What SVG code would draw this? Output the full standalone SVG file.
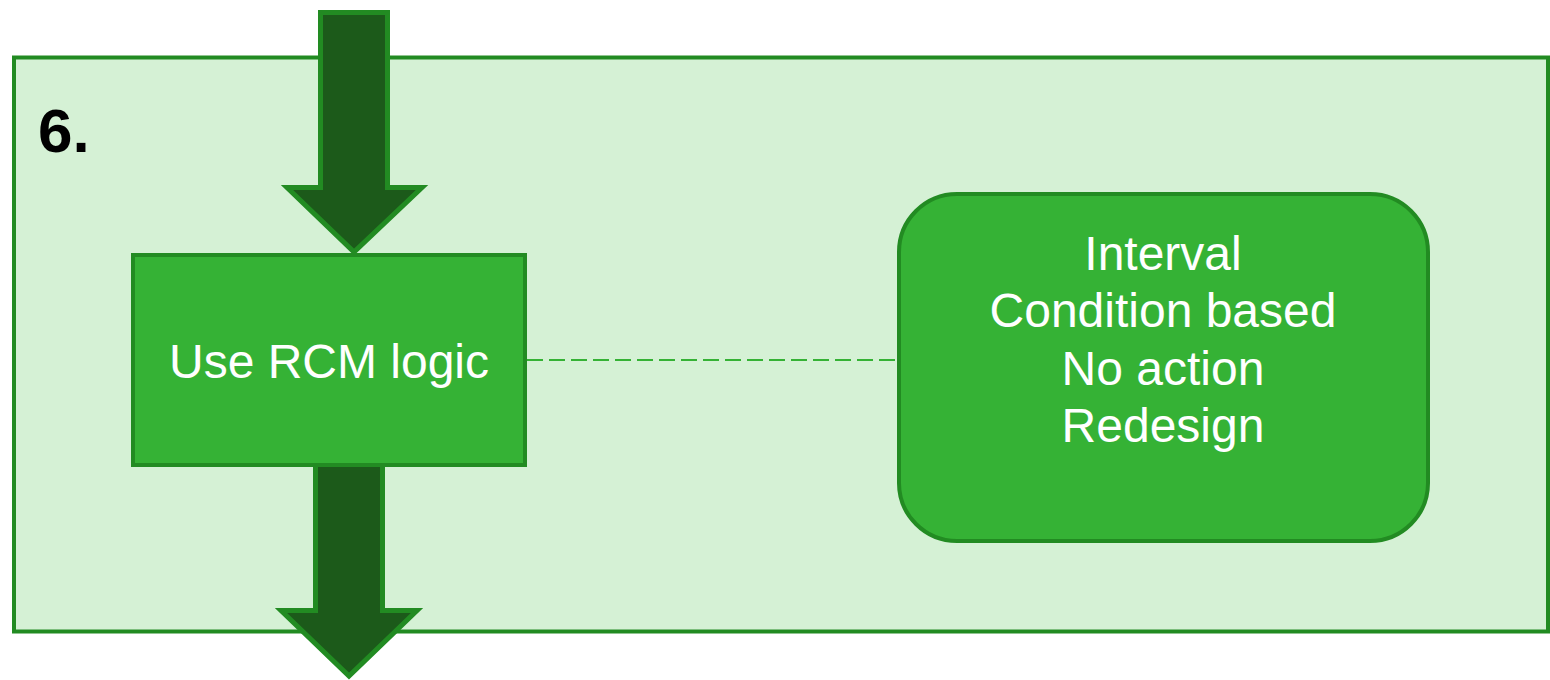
<svg xmlns="http://www.w3.org/2000/svg" width="1550" height="680" viewBox="0 0 1550 680">
  <style>
    .frame { fill: #d5f1d5; stroke: #228b22; stroke-width: 4; }
    .flow { fill: #1c5a1a; stroke: #228b22; stroke-width: 5; stroke-linejoin: miter; }
    .node { fill: #35b235; stroke: #228b22; stroke-width: 4; }
    .label { font-family: "Liberation Sans", Arial, sans-serif; font-size: 48px; fill: #ffffff; text-anchor: middle; }
    .step { font-family: "Liberation Sans", Arial, sans-serif; font-size: 62px; font-weight: bold; fill: #000000; }
    .link { stroke: #35b235; stroke-width: 2; stroke-dasharray: 16 6; fill: none; }
  </style>

  <!-- step frame -->
  <g id="step-frame">
    <rect class="frame" x="14" y="57.5" width="1534" height="574"/>
    <text class="step" x="38" y="152">6.</text>
  </g>

  <!-- flow arrows and dashed link -->
  <g id="connectors">
    <polygon class="flow" points="320.5,12.5 387.5,12.5 387.5,187.5 422,187.5 354,252 287,187.5 320.5,187.5"/>
    <polygon class="flow" points="315.5,463 382.5,463 382.5,610.5 417,610.5 349,676 281,610.5 315.5,610.5"/>
    <line class="link" x1="527" y1="360" x2="895" y2="360"/>
  </g>

  <g id="rcm-logic">
    <rect class="node" x="133" y="255" width="392" height="210"/>
    <text class="label" x="329" y="378">Use RCM logic</text>
  </g>

  <g id="task-options">
    <rect class="node" x="899" y="194" width="529" height="347" rx="58" ry="58"/>
    <text class="label" x="1163" y="270">Interval</text>
    <text class="label" x="1163" y="327">Condition based</text>
    <text class="label" x="1163" y="385">No action</text>
    <text class="label" x="1163" y="442">Redesign</text>
  </g>
</svg>
